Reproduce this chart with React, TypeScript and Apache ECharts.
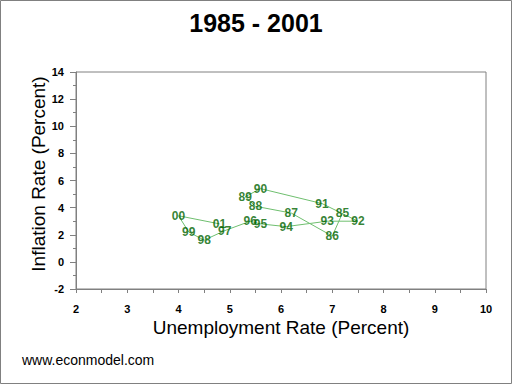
import React, { useEffect, useRef } from "react";
import * as echarts from "echarts";

const years = ["85", "86", "87", "88", "89", "90", "91", "92", "93", "94", "95", "96", "97", "98", "99", "00", "01"];
const unemployment = [7.2, 7.0, 6.2, 5.5, 5.3, 5.6, 6.8, 7.5, 6.9, 6.1, 5.6, 5.4, 4.9, 4.5, 4.2, 4.0, 4.8];
const inflation = [3.6, 1.9, 3.6, 4.1, 4.8, 5.4, 4.3, 3.0, 3.0, 2.6, 2.8, 3.0, 2.3, 1.6, 2.2, 3.4, 2.8];

const FONT = "Arial, 'Liberation Sans', Helvetica, sans-serif";

export default function App() {
  const ref = useRef<HTMLDivElement>(null);
  useEffect(() => {
    document.body.style.margin = "0";
    const chart = echarts.init(ref.current!, null, { renderer: "svg" });
    const points = unemployment.map((u, i) => [u, inflation[i], years[i]]);
    chart.setOption({
      animation: false,
      backgroundColor: "#ffffff",
      grid: {
        left: 76,
        top: 72,
        right: 26,
        bottom: 95,
        show: true,
        borderColor: "#808080",
        borderWidth: 1,
        backgroundColor: "transparent",
      },
      title: {
        text: "1985 - 2001",
        left: "center",
        top: 5,
        textStyle: { fontFamily: FONT, fontSize: 25, fontWeight: "bold", color: "#000" },
      },
      xAxis: {
        type: "value",
        min: 2,
        max: 10,
        interval: 1,
        axisLine: { show: true, onZero: false, lineStyle: { color: "#808080", width: 1 } },
        axisTick: { show: true, length: 4, lineStyle: { color: "#808080" } },
        minorTick: { show: true, splitNumber: 2, length: 4, lineStyle: { color: "#808080" } },
        splitLine: { show: false },
        axisLabel: { fontFamily: FONT, fontSize: 11, fontWeight: "bold", color: "#000", margin: 14 },
      },
      yAxis: {
        type: "value",
        min: -2,
        max: 14,
        interval: 2,
        axisLine: { show: true, onZero: false, lineStyle: { color: "#808080", width: 1 } },
        axisTick: { show: true, length: 6, lineStyle: { color: "#808080" } },
        minorTick: { show: true, splitNumber: 2, length: 3, lineStyle: { color: "#808080" } },
        splitLine: { show: false },
        axisLabel: { fontFamily: FONT, fontSize: 11, fontWeight: "bold", color: "#000", margin: 12 },
      },
      series: [
        {
          type: "line",
          data: points.map((p) => [p[0], p[1]]),
          symbol: "none",
          lineStyle: { color: "#6fbf6f", width: 1 },
          z: 2,
        },
        {
          type: "scatter",
          data: points,
          symbolSize: 1,
          itemStyle: { color: "rgba(0,0,0,0)" },
          label: {
            show: true,
            position: "inside",
            formatter: (p: any) => p.data[2],
            fontFamily: FONT,
            fontSize: 12,
            fontWeight: "bold",
            color: "#006400",
            textBorderWidth: 0,
            textBorderColor: "transparent",
          },
          labelLayout: { hideOverlap: false },
          z: 3,
        },
      ],
      graphic: [
        {
          type: "rect",
          shape: { x: 0.5, y: 0.5, width: 511, height: 383 },
          style: { fill: "none", stroke: "#808080", lineWidth: 1 },
          silent: true,
        },
        {
          type: "text",
          x: 281,
          y: 327,
          style: {
            text: "Unemployment Rate (Percent)",
            fontFamily: FONT,
            fontSize: 19,
            fill: "#000",
            align: "center",
            verticalAlign: "middle",
          },
        },
        {
          type: "text",
          x: 38,
          y: 174,
          rotation: Math.PI / 2,
          style: {
            text: "Inflation Rate (Percent)",
            fontFamily: FONT,
            fontSize: 19,
            fill: "#000",
            align: "center",
            verticalAlign: "middle",
          },
        },
        {
          type: "text",
          x: 22,
          y: 360,
          style: {
            text: "www.econmodel.com",
            fontFamily: FONT,
            fontSize: 14,
            fill: "#000",
            align: "left",
            verticalAlign: "middle",
          },
        },
      ],
    });
    return () => chart.dispose();
  }, []);
  return <div ref={ref} style={{ position: "fixed", left: 0, top: 0, width: 512, height: 384 }} />;
}
